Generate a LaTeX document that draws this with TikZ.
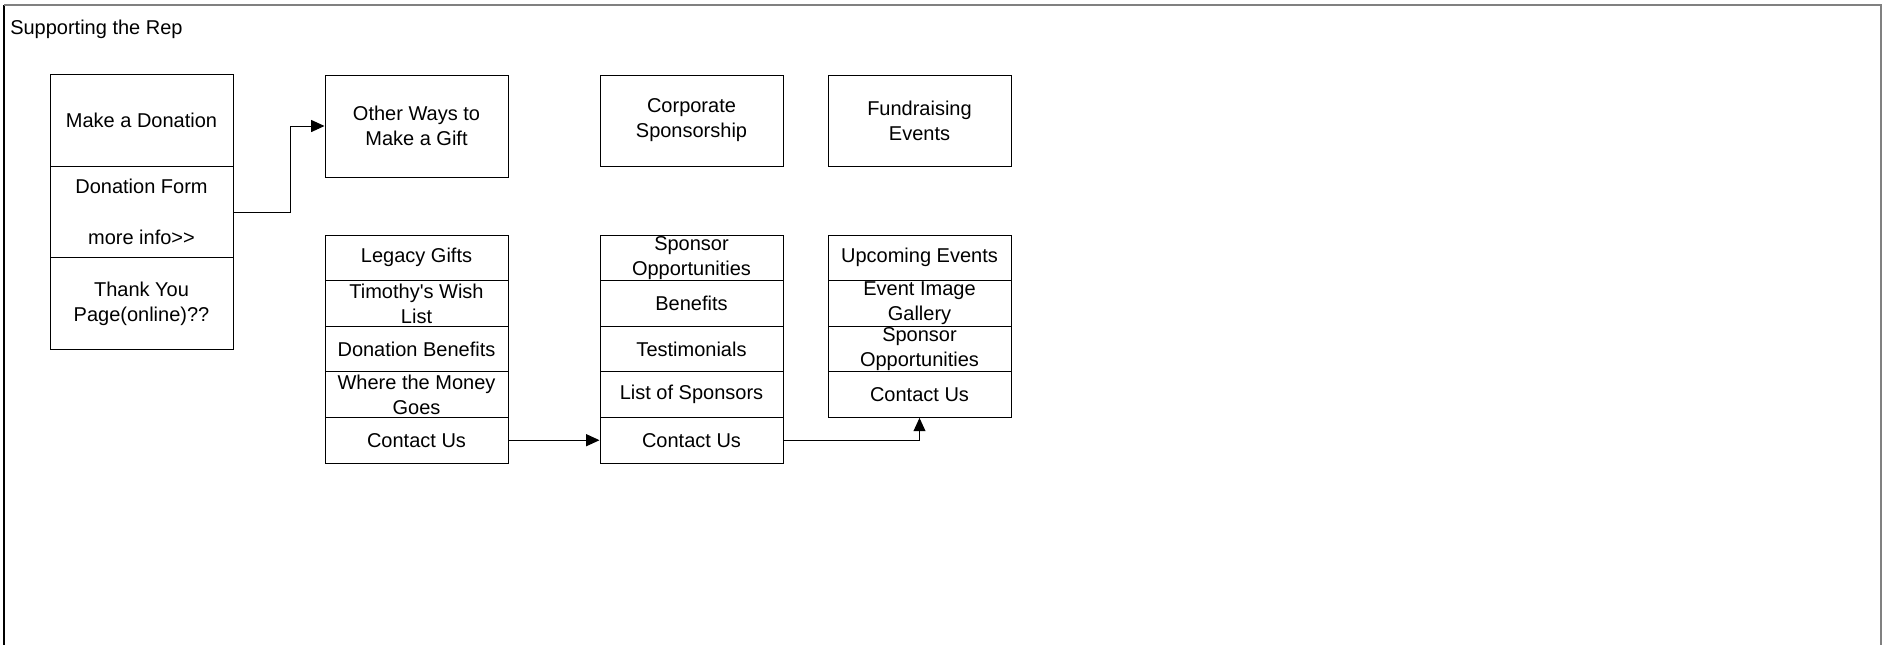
\documentclass[tikz,border=0pt]{standalone}
\usepackage{fontspec}
\setmainfont{Liberation Sans}
\usetikzlibrary{arrows.meta}
\begin{document}
\begin{tikzpicture}[x=0.75pt,y=-0.75pt,
  cell/.style={draw=black,line width=0.75pt,minimum width=137.25pt,inner sep=0pt,align=center,
    font=\fontsize{15}{18.75}\selectfont},
  bigrow/.style={cell,minimum height=68.5pt},
  toprow/.style={cell,minimum height=68.25pt},
  smallrow/.style={cell,minimum height=34.2pt},
  link/.style={draw=black,line width=0.75pt,-{Triangle[length=10pt,width=9pt]}},
  frameedge/.style={line width=1.2pt}]
\useasboundingbox (0,0) rectangle (1893,644);
% outer frame
\draw[frameedge,black] (4,5) -- (4,650);
\draw[frameedge,gray] (4,5) -- (1881,5) -- (1881,650);
\node[anchor=base west,inner sep=0pt,font=\fontsize{15}{18.75}\selectfont] (title) at (10,34.5) {Supporting the Rep};
% column A
\node[bigrow] (don1) at (141.5,120.5) {Make a Donation};
\node[bigrow] (don2) at (141.5,212) {Donation Form\\[19pt]more info>{}>};
\node[bigrow] (don3) at (141.5,303.5) {Thank You\\Page(online)??};
% column B
\node[cell,minimum height=76.5pt] (other) at (416.5,126) {Other Ways to\\Make a Gift};
\node[smallrow] (leg1) at (416.5,257.8) {Legacy Gifts};
\node[smallrow] (leg2) at (416.5,303.4) {Timothy\textquotesingle s Wish\\List};
\node[smallrow] (leg3) at (416.5,349) {Donation Benefits};
\node[smallrow] (leg4) at (416.5,394.6) {Where the Money\\Goes};
\node[smallrow] (leg5) at (416.5,440.2) {Contact Us};
% column C
\node[toprow] (corp) at (691.5,120.5) {Corporate\\Sponsorship};
\node[smallrow] (sp1) at (691.5,257.8) {Sponsor\\Opportunities};
\node[smallrow] (sp2) at (691.5,303.4) {Benefits};
\node[smallrow] (sp3) at (691.5,349) {Testimonials};
\node[smallrow] (sp4) at (691.5,394.6) {List of Sponsors};
\node[smallrow] (sp5) at (691.5,440.2) {Contact Us};
% column D
\node[toprow] (fund) at (919.5,120.5) {Fundraising\\Events};
\node[smallrow] (fe1) at (919.5,257.8) {Upcoming Events};
\node[smallrow] (fe2) at (919.5,303.4) {Event Image\\Gallery};
\node[smallrow] (fe3) at (919.5,349) {Sponsor\\Opportunities};
\node[smallrow] (fe4) at (919.5,394.6) {Contact Us};
% connectors
\draw[link] (don2.east) -- ++(57,0) |- (other.west);
\draw[link] (leg5.east) -- (sp5.west);
\draw[link] (sp5.east) -| (fe4.south);
\end{tikzpicture}
\end{document}
